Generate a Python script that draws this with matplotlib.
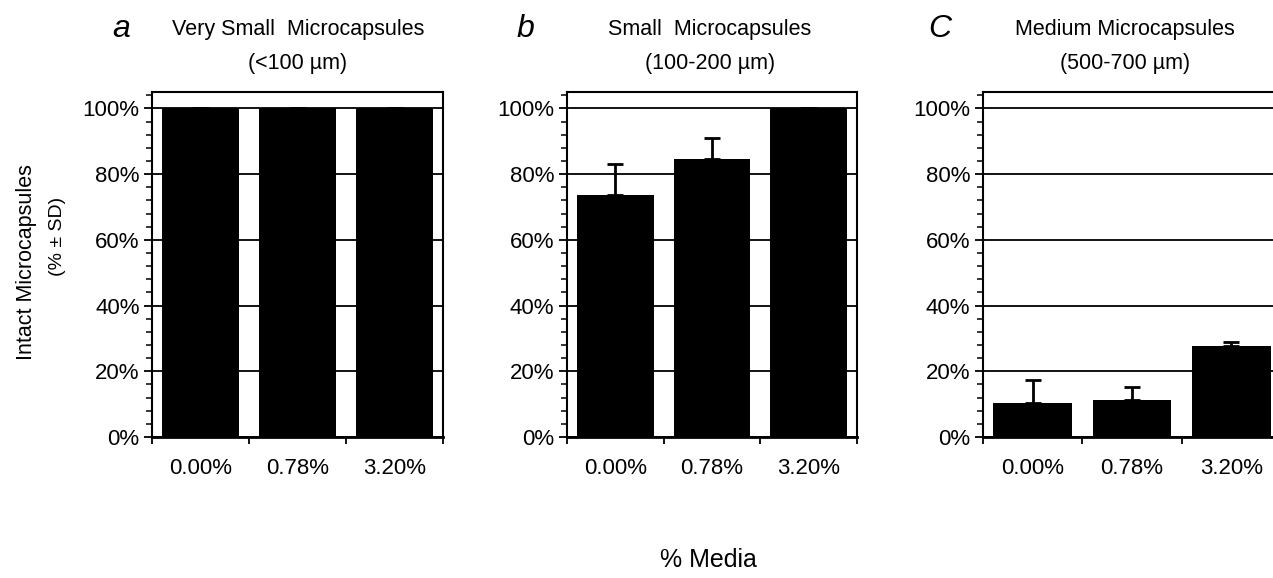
import matplotlib
matplotlib.use('Agg')
import matplotlib.pyplot as plt
from matplotlib.ticker import MultipleLocator, FuncFormatter

plt.rcParams['font.family'] = ['Liberation Sans', 'DejaVu Sans']

media = ['0.00%', '0.78%', '3.20%']

# % intact microcapsules and upper SD, per size class
very_small = [100, 100, 100]
very_small_sd = [0, 0, 0]
small = [73.5, 84.5, 100]
small_sd = [9.5, 6.5, 0]
medium = [10.5, 11.3, 27.8]
medium_sd = [7.0, 3.8, 1.2]

letters = ['a', 'b', 'C']
titles = ['Very Small  Microcapsules', 'Small  Microcapsules',
          'Medium Microcapsules']
ranges = ['(<100 \u00b5m)', '(100-200 \u00b5m)', '(500-700 \u00b5m)']

W, H = 1273, 578
fig = plt.figure(figsize=(W / 100, H / 100), dpi=100)

# axes boxes in pixels: left, right, bottom, top
boxes = [(152, 443, 437, 92), (567, 857, 437, 92), (983, 1281, 437, 92)]
title_x = [298, 710, 1125]
letter_x = [121, 525, 940]

for i, (vals, sd) in enumerate([(very_small, very_small_sd),
                                 (small, small_sd),
                                 (medium, medium_sd)]):
    l, r, b, t = boxes[i]
    ax = fig.add_axes([l / W, (H - b) / H, (r - l) / W, (b - t) / H])
    x = list(range(len(media)))
    ax.set_axisbelow(True)
    ax.yaxis.grid(True, color='black', linewidth=1.3)
    ax.bar(x, vals, width=0.79, color='black', zorder=2)
    ax.errorbar(x, vals, yerr=[[0] * len(sd), sd], fmt='none',
                ecolor='black', elinewidth=2, capsize=6, capthick=2, zorder=3)
    ax.set_xlim(-0.5, 2.5)
    ax.set_ylim(0, 105)
    ax.yaxis.set_major_locator(MultipleLocator(20))
    ax.yaxis.set_minor_locator(MultipleLocator(4))
    ax.yaxis.set_major_formatter(FuncFormatter(lambda v, p: '%d%%' % v))
    ax.tick_params(axis='y', which='major', length=6, width=1.3,
                   labelsize=16, pad=3)
    ax.tick_params(axis='y', which='minor', length=4, width=1.1)
    ax.set_xticks([-0.5, 0.5, 1.5, 2.5])
    ax.set_xticklabels([])
    ax.set_xticks(x, minor=True)
    ax.set_xticklabels(media, minor=True)
    ax.tick_params(axis='x', which='major', length=5, width=1.3)
    ax.tick_params(axis='x', which='minor', length=0, labelsize=16, pad=15)
    for s in ax.spines.values():
        s.set_linewidth(1.5)
    ax.spines['bottom'].set_linewidth(2)

    fig.text(title_x[i] / W, 1 - 30 / H, titles[i], ha='center',
             va='center', fontsize=15.5)
    fig.text(title_x[i] / W, 1 - 63 / H, ranges[i], ha='center',
             va='center', fontsize=15.5)
    fig.text(letter_x[i] / W, 1 - 29 / H, letters[i], ha='center',
             va='center', fontsize=23, style='italic')

fig.text(27 / W, 1 - 262 / H, 'Intact Microcapsules', rotation=90,
         ha='center', va='center', fontsize=15.5)
fig.text(58 / W, 1 - 236 / H, '(% \u00b1 SD)', rotation=90,
         ha='center', va='center', fontsize=14)
fig.text(708 / W, 1 - 560 / H, '% Media', ha='center', va='center',
         fontsize=18)

fig.savefig('out.png', dpi=100, facecolor='white')
